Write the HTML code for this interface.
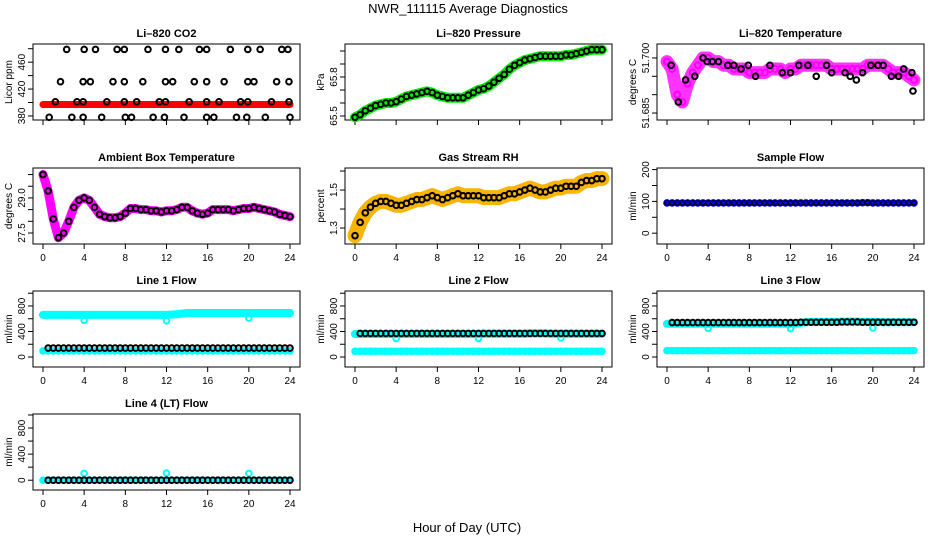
<!DOCTYPE html>
<html><head><meta charset="utf-8">
<style>
html,body{margin:0;padding:0;background:#fff;}
svg{display:block;font-family:"Liberation Sans",Arial,sans-serif;}
</style></head>
<body>
<svg id="chart" width="936" height="540" viewBox="0 0 936 540" xmlns="http://www.w3.org/2000/svg">
<rect width="936" height="540" fill="#fff"/>
<text x="468" y="13" text-anchor="middle" font-size="13">NWR_111115  Average Diagnostics</text>
<text x="467" y="532" text-anchor="middle" font-size="13">Hour of Day (UTC)</text>
</svg>
<script>
const hours=[0,0.5,1,1.5,2,2.5,3,3.5,4,4.5,5,5.5,6,6.5,7,7.5,8,8.5,9,9.5,10,10.5,11,11.5,12,12.5,13,13.5,14,14.5,15,15.5,16,16.5,17,17.5,18,18.5,19,19.5,20,20.5,21,21.5,22,22.5,23,23.5,24];
const xTicks=[0,4,8,12,16,20,24];
// CO2
const co2Band=[397,397,397,397,397,397,397,397,397,397,397,397,397,397,397,397,397,397,397,397,397,397,397,397,397,397,397,397,397,397,397,397,397,397,397,397,397,397,397,397,397,397,397,397,397,397,397,397,397];
const co2HighX=[2.3,4.0,5.1,7.2,7.9,10.2,11.9,13.2,15.2,15.9,18.2,19.9,21.1,23.2,23.8];
const co2HighY=[479,479,479,479,479,479,479,479,479,479,479,479,479,479,479];
const co2MidX=[1.7,3.9,4.6,6.8,7.9,9.7,11.9,12.6,14.7,15.9,17.6,19.9,20.5,22.7,23.9];
const co2MidY=[431,431,431,431,431,431,431,431,431,431,431,431,431,431,431];
const co2LowX=[1.2,3.3,3.9,6.2,7.9,9.1,11.3,11.9,14.2,15.9,17.1,19.2,19.9,22.2,23.9];
const co2LowY=[401,401,401,401,401,401,401,401,401,401,401,401,401,401,401];
const co2MinX=[0.6,2.8,3.9,5.7,8.0,8.6,10.7,11.8,13.7,15.9,16.6,18.8,19.8,21.6,24.0];
const co2MinY=[378,378,378,378,378,378,378,378,378,378,378,378,378,378,378];
// Pressure
const pressure=[65.49,65.51,65.54,65.56,65.58,65.59,65.60,65.60,65.61,65.63,65.65,65.66,65.67,65.68,65.69,65.68,65.66,65.65,65.64,65.64,65.64,65.64,65.66,65.68,65.70,65.71,65.73,65.76,65.79,65.82,65.86,65.89,65.91,65.93,65.94,65.95,65.96,65.96,65.96,65.96,65.96,65.97,65.97,65.98,65.99,66.00,66.01,66.01,66.01];
// Li-820 temperature
const liTemp=[51.699,51.697,51.690,51.688,51.693,51.696,51.698,51.700,51.700,51.699,51.699,51.698,51.698,51.697,51.697,51.697,51.696,51.696,51.696,51.696,51.697,51.697,51.697,51.696,51.697,51.697,51.698,51.698,51.698,51.698,51.698,51.698,51.697,51.697,51.697,51.697,51.697,51.697,51.697,51.698,51.698,51.698,51.698,51.697,51.696,51.696,51.696,51.695,51.694];
const liTempAvgX=[0.4,1.1,1.8,2.7,3.5,3.9,4.4,5.0,5.9,6.5,7.2,7.9,8.6,10.0,11.2,12.0,12.8,13.7,14.5,15.5,16.0,17.3,17.8,18.4,19.0,19.8,20.5,21.0,21.8,22.5,23.0,23.8,23.9];
const liTempAvgY=[51.698,51.688,51.694,51.695,51.700,51.699,51.699,51.699,51.698,51.698,51.697,51.698,51.695,51.698,51.696,51.696,51.698,51.698,51.695,51.698,51.696,51.696,51.695,51.694,51.696,51.698,51.698,51.698,51.695,51.695,51.697,51.696,51.691];
// Ambient box temperature
const ambient=[30.0,29.3,28.1,27.3,27.5,28.0,28.6,28.9,29.0,28.9,28.6,28.3,28.2,28.15,28.15,28.2,28.35,28.55,28.55,28.5,28.5,28.45,28.45,28.4,28.45,28.45,28.5,28.6,28.6,28.45,28.35,28.3,28.35,28.5,28.5,28.5,28.5,28.45,28.5,28.55,28.55,28.6,28.55,28.5,28.45,28.4,28.3,28.25,28.2];
// Gas stream RH
const rh=[1.26,1.33,1.38,1.41,1.43,1.44,1.44,1.43,1.42,1.42,1.43,1.44,1.45,1.45,1.46,1.47,1.46,1.45,1.46,1.47,1.48,1.47,1.47,1.47,1.47,1.46,1.46,1.46,1.46,1.47,1.48,1.48,1.49,1.50,1.51,1.50,1.49,1.49,1.50,1.51,1.51,1.52,1.52,1.52,1.54,1.55,1.55,1.56,1.56];
// Flows
const sampleFlow=[95,95,95,95,95,95,95,95,95,95,95,95,95,95,95,95,95,95,95,95,95,95,95,95,95,95,95,95,95,95,95,95,95,95,95,95,95,95,96,96,95,95,95,95,95,95,95,95,95];
const line1Upper=[660,660,660,660,660,660,660,660,660,660,660,660,660,660,660,660,660,660,660,660,660,660,660,660,660,665,670,680,690,690,690,690,690,690,690,690,690,690,690,690,690,690,690,690,690,690,690,690,690];
const line1Lower=[95,95,95,95,95,95,95,95,95,95,95,95,95,95,95,95,95,95,95,95,95,95,95,95,95,95,95,95,95,95,95,95,95,95,95,95,95,95,95,95,95,95,95,95,95,95,95,95,95];
const line1Avg=[140,140,140,140,140,140,140,140,140,140,140,140,140,140,140,140,140,140,140,140,140,140,140,140,140,140,140,140,140,140,140,140,140,140,140,140,140,140,140,140,140,140,140,140,140,140,140,140,140];
const line2Upper=[360,360,360,360,360,360,360,360,360,360,360,360,360,360,360,360,360,360,360,360,360,360,360,360,360,365,365,365,365,365,365,365,365,365,370,370,370,370,365,365,365,365,365,365,365,365,365,365,365];
const line2Lower=[90,90,90,90,90,90,90,90,90,90,90,90,90,90,90,90,90,90,90,90,90,90,90,90,90,90,90,90,90,90,90,90,90,90,90,90,90,90,90,90,90,90,90,90,90,90,90,90,90];
const line2Avg=[370,370,370,370,370,370,370,370,370,370,370,370,370,370,370,370,370,370,370,370,370,370,370,370,370,370,370,370,370,370,370,370,370,370,370,370,370,370,370,370,370,370,370,370,370,370,370,370,370];
const line3Upper=[520,520,520,520,520,520,520,520,520,520,520,520,520,520,520,520,520,520,520,520,520,520,520,520,520,525,535,545,550,550,550,550,550,550,555,555,555,555,550,550,550,550,545,545,545,545,545,545,545];
const line3Lower=[100,100,100,100,100,100,100,100,100,100,100,100,100,100,100,100,100,100,100,100,100,100,100,100,100,100,100,100,100,100,100,100,100,100,100,100,100,100,100,100,100,100,100,100,100,100,100,100,100];
const line3Avg=[540,540,540,540,540,540,540,540,540,540,540,540,540,540,540,540,540,540,540,540,540,540,540,540,540,540,545,545,545,545,545,545,545,545,550,550,550,550,545,545,545,545,545,545,545,545,545,545,545];
const line4Cyan=[0,0,0,0,0,0,0,0,0,0,0,0,0,0,0,0,0,0,0,0,0,0,0,0,0,0,0,0,0,0,0,0,0,0,0,0,0,0,0,0,0,0,0,0,0,0,0,0,0];
const line4Avg=[0,0,0,0,0,0,0,0,0,0,0,0,0,0,0,0,0,0,0,0,0,0,0,0,0,0,0,0,0,0,0,0,0,0,0,0,0,0,0,0,0,0,0,0,0,0,0,0,0];
const spikeX=[4,12,20];
const line1Spike=[575,570,610];
const line2Spike=[290,290,300];
const line3Spike=[450,445,455];
const line4Spike=[105,110,105];

const NS="http://www.w3.org/2000/svg";
const svg=document.getElementById('chart');
function mk(tag,attrs,parent){const e=document.createElementNS(NS,tag);for(const k in attrs)e.setAttribute(k,attrs[k]);(parent||svg).appendChild(e);return e;}
const rowTops=[44,168,291,414];
const H=76, W=267;

function panel(name,col,row,title,ylab,ymin,ymax,ticks,labels,series){
  const g=mk('g',{});
  
  
  const L=33+312*col, T=rowTops[row], B=T+H;
  const xs=h=>L+10+h*(W-20)/24;
  const ys=v=>B-(v-ymin)/(ymax-ymin)*H;
  const box=mk('rect',{x:L,y:T,width:W,height:H,fill:'none',stroke:'#000','stroke-width':1},g);
  
  
  const t=mk('text',{x:L+W/2,y:T-7,'text-anchor':'middle','font-size':11,'font-weight':'bold'},g);
  t.textContent=title;
  
  
  const yl=mk('text',{transform:`translate(${L-21},${T+H/2}) rotate(-90)`,'text-anchor':'middle','font-size':10},g);
  yl.textContent=ylab;
  
  
  const xa=mk('g',{},g);
  
  
  xTicks.forEach(h=>{
    mk('line',{x1:xs(h),x2:xs(h),y1:B,y2:B+5,stroke:'#000'},xa);
    if(row!==0){
      const tx=mk('text',{x:xs(h),y:B+17,'text-anchor':'middle','font-size':10},xa);
      tx.textContent=String(h);
    }
  });
  const ya=mk('g',{},g);
  
  
  ticks.forEach(v=>{mk('line',{x1:L-5,x2:L,y1:ys(v),y2:ys(v),stroke:'#000'},ya);});
  labels.forEach(lb=>{
    const ty=mk('text',{transform:`translate(${L-8},${ys(lb[0])}) rotate(-90)`,'text-anchor':'middle','font-size':10},ya);
    ty.textContent=lb[1];
  });
  series.forEach(s=>{
    const sg=mk('g',{},g);
    
    
    if(s.band){
      const d=s.x.map((h,i)=>(i?'L':'M')+xs(h).toFixed(1)+','+ys(s.y[i]).toFixed(1)).join('');
      mk('path',{d:d,fill:'none',stroke:s.color,'stroke-width':s.band,'stroke-linejoin':'round','stroke-linecap':'round'},sg);
    }
    s.x.forEach((h,i)=>{
      const c=mk('circle',{cx:xs(h),cy:ys(s.y[i]),r:s.r||2.8,fill:'none',stroke:s.pt||s.color,'stroke-width':s.sw||2},sg);
      
      
    });
  });
}
const flowTicks=[0,200,400,600,800,1000];
const flowLabels=[[0,'0'],[400,'400'],[800,'800']];
panel('co2',0,0,'Li\u2013820 CO2','Licor ppm',374,487,[380,400,420,440,460,480],[[380,'380'],[420,'420'],[460,'460']],[
 {name:'co2-raw',x:hours,y:co2Band,color:'#ff0000',band:7,r:2.5,sw:1.5},
 {name:'co2-high',x:co2HighX,y:co2HighY,color:'#000'},
 {name:'co2-mid',x:co2MidX,y:co2MidY,color:'#000'},
 {name:'co2-low',x:co2LowX,y:co2LowY,color:'#000'},
 {name:'co2-min',x:co2MinX,y:co2MinY,color:'#000'}]);
panel('pressure',1,0,'Li\u2013820 Pressure','kPa',65.469,66.054,[65.5,65.6,65.7,65.8,65.9,66.0],[[65.5,'65.5'],[65.8,'65.8']],[
 {name:'pressure-raw',x:hours,y:pressure,color:'#00ee00',band:10},
 {name:'pressure-avg',x:hours,y:pressure,color:'#000'}]);
panel('li820-temp',2,0,'Li\u2013820 Temperature','degrees C',51.6831,51.7038,[51.685,51.690,51.695,51.700],[[51.685,'51.685'],[51.700,'51.700']],[
 {name:'temp-raw',x:hours,y:liTemp,color:'#ff33ff',band:13,r:3,pt:'#ff00ff'},
 {name:'temp-avg',x:liTempAvgX,y:liTempAvgY,color:'#000'}]);
panel('ambient-temp',0,1,'Ambient Box Temperature','degrees C',27.03,30.28,[27.5,28.0,28.5,29.0,29.5,30.0],[[27.5,'27.5'],[29.0,'29.0']],[
 {name:'ambient-raw',x:hours,y:ambient,color:'#ff00ff',band:9},
 {name:'ambient-avg',x:hours,y:ambient,color:'#000'}]);
panel('gas-rh',1,1,'Gas Stream RH','percent',1.216,1.616,[1.3,1.4,1.5,1.6],[[1.3,'1.3'],[1.5,'1.5']],[
 {name:'rh-raw',x:hours,y:rh,color:'#f7b500',band:15,pt:'#ff6a00'},
 {name:'rh-avg',x:hours,y:rh,color:'#000'}]);
panel('sample-flow',2,1,'Sample Flow','ml/min',-34,205,[0,50,100,150,200],[[0,'0'],[100,'100'],[200,'200']],[
 {name:'sample-raw',x:hours,y:sampleFlow,color:'#0000ff',band:6},
 {name:'sample-avg',x:hours,y:sampleFlow,color:'#000',r:2.3,sw:1.2}]);
panel('line1-flow',0,2,'Line 1 Flow','ml/min',-157,1035,flowTicks,flowLabels,[
 {name:'line1-upper',x:hours,y:line1Upper,color:'#00ffff',band:8},
 {name:'line1-lower',x:hours,y:line1Lower,color:'#00ffff',band:6},
 {name:'line1-spikes',x:spikeX,y:line1Spike,color:'#00ffff'},
 {name:'line1-avg',x:hours.slice(1),y:line1Avg.slice(1),color:'#000'}]);
panel('line2-flow',1,2,'Line 2 Flow','ml/min',-157,1035,flowTicks,flowLabels,[
 {name:'line2-upper',x:hours,y:line2Upper,color:'#00ffff',band:8},
 {name:'line2-lower',x:hours,y:line2Lower,color:'#00ffff',band:7},
 {name:'line2-spikes',x:spikeX,y:line2Spike,color:'#00ffff'},
 {name:'line2-avg',x:hours.slice(1),y:line2Avg.slice(1),color:'#000'}]);
panel('line3-flow',2,2,'Line 3 Flow','ml/min',-157,1035,flowTicks,flowLabels,[
 {name:'line3-upper',x:hours,y:line3Upper,color:'#00ffff',band:8},
 {name:'line3-lower',x:hours,y:line3Lower,color:'#00ffff',band:7},
 {name:'line3-spikes',x:spikeX,y:line3Spike,color:'#00ffff'},
 {name:'line3-avg',x:hours.slice(1),y:line3Avg.slice(1),color:'#000'}]);
panel('line4-flow',0,3,'Line 4 (LT) Flow','ml/min',-150,1015,flowTicks,flowLabels,[
 {name:'line4-raw',x:hours,y:line4Cyan,color:'#00ffff',band:6},
 {name:'line4-spikes',x:spikeX,y:line4Spike,color:'#00ffff'},
 {name:'line4-avg',x:hours.slice(1),y:line4Avg.slice(1),color:'#000'}]);
</script>
</body></html>
